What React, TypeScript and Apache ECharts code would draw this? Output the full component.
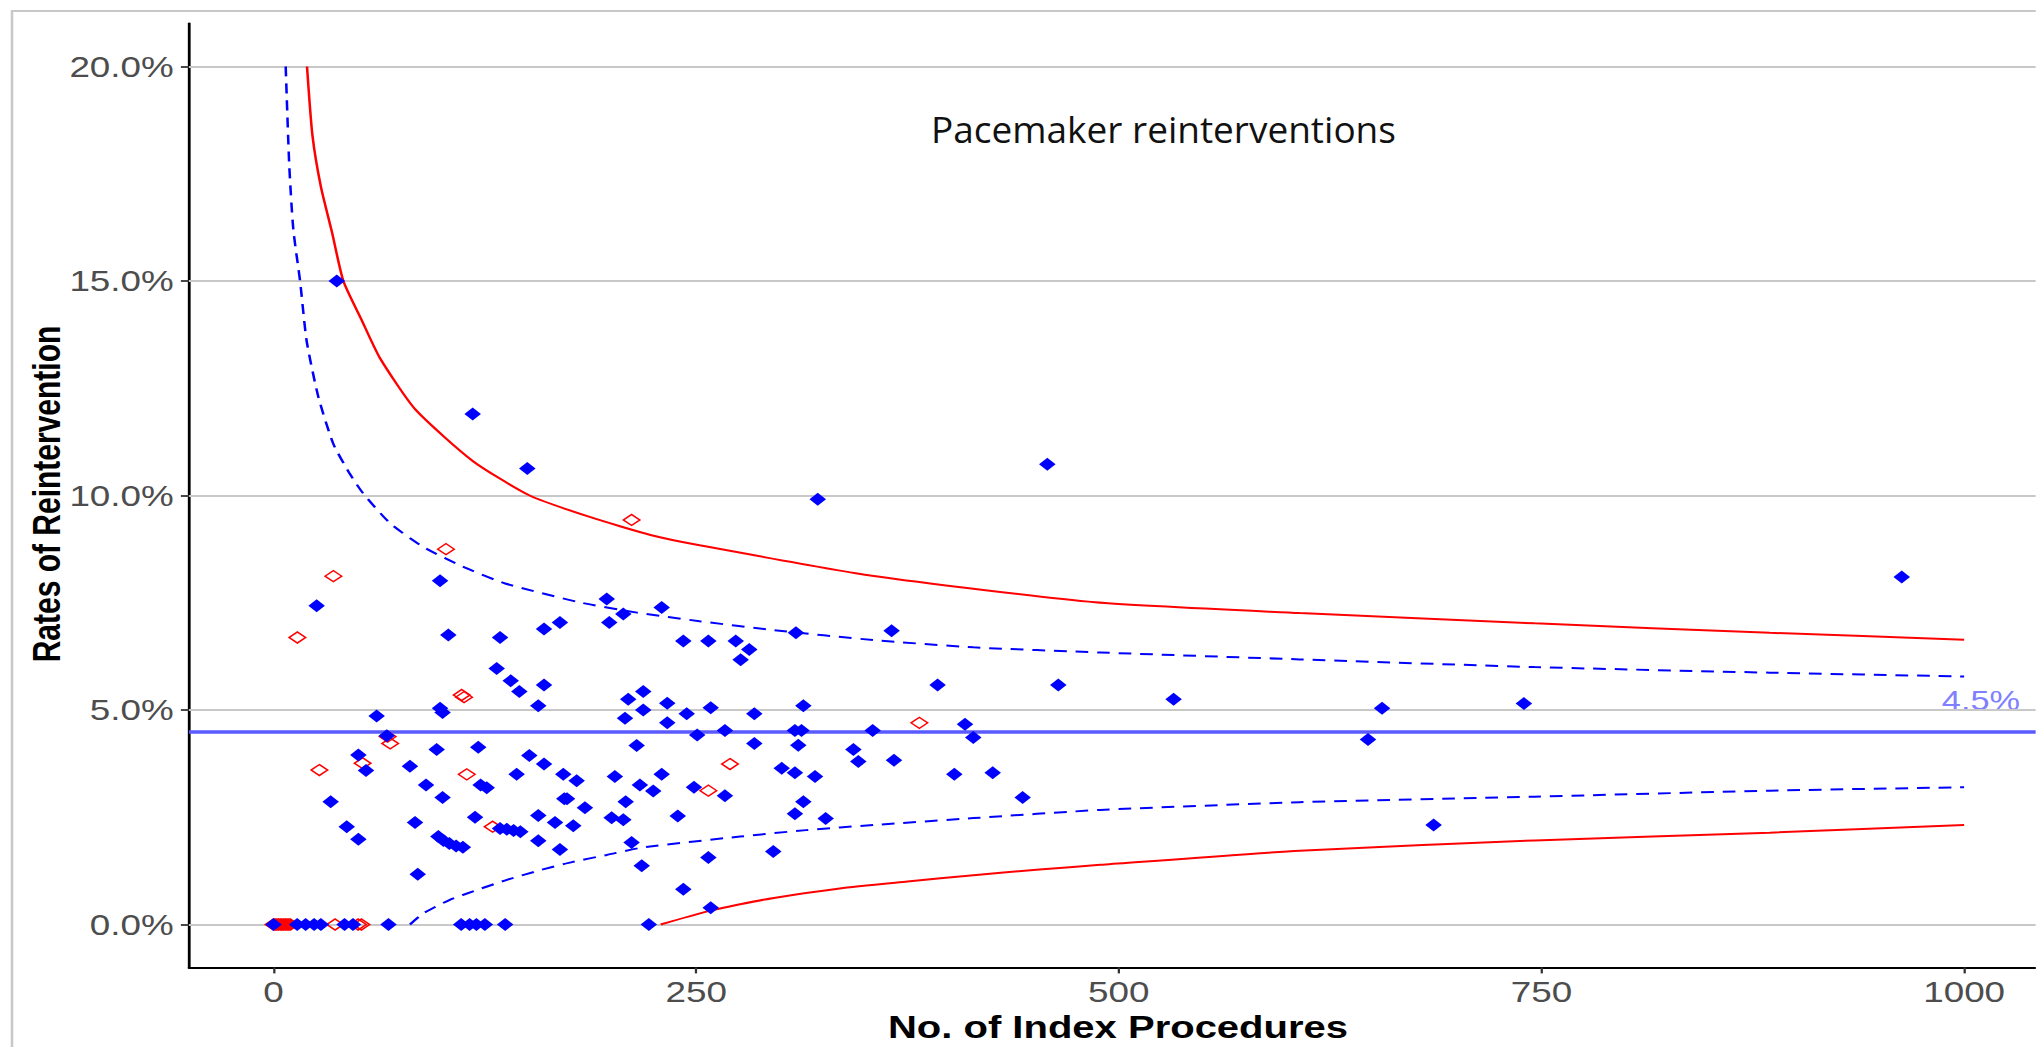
import React, { useEffect, useRef } from "react";
import * as echarts from "echarts";

// ---------- data ----------
const X_TICKS = [0, 250, 500, 750, 1000];
const Y_TICKS = [0, 5, 10, 15, 20];
const MEAN_RATE = 4.5;
const MEAN_LABEL = "4.5%";
const CHART_TITLE = "Pacemaker reinterventions";
const X_TITLE = "No. of Index Procedures";
const Y_TITLE = "Rates of Reintervention";

// centres: [index procedures, reintervention rate %]
const BLUE_POINTS: [number, number][] = [
  [37.4, 15.0], [117.8, 11.9], [150.1, 10.63], [321.9, 9.91], [457.7, 10.73], [963.1, 8.1],
  [98.5, 8.01], [25.5, 7.43], [197.1, 7.59], [206.9, 7.24], [169.4, 7.04], [160.0, 6.89], [198.6, 7.04], [103.4, 6.75], [134.0, 6.69],
  [132.0, 5.97], [140.3, 5.68], [145.4, 5.43], [160.0, 5.58], [156.6, 5.10], [98.5, 5.04], [100.0, 4.94], [61.0, 4.86], [67.0, 4.40],
  [50.2, 3.95], [54.7, 3.59], [96.5, 4.08], [121.1, 4.13], [80.7, 3.69], [90.2, 3.25], [100.0, 2.96], [122.5, 3.25], [126.1, 3.19],
  [143.8, 3.50], [151.3, 3.94], [160.0, 3.74], [171.4, 3.50], [179.3, 3.35], [172.0, 2.93], [173.6, 2.93], [184.2, 2.72], [201.9, 3.45],
  [208.3, 2.86], [216.7, 3.25], [214.8, 4.17], [207.9, 4.81], [209.8, 5.25], [218.7, 5.43], [218.7, 5.0],
  [33.8, 2.86], [43.3, 2.28], [50.2, 1.99], [83.7, 2.38], [85.3, 1.17],
  [97.5, 2.05], [100.5, 1.96], [104.0, 1.89], [108.0, 1.83], [112.0, 1.8],
  [119.2, 2.5], [134.0, 2.24], [138.0, 2.22], [142.0, 2.19], [146.0, 2.16],
  [156.6, 2.54], [166.5, 2.38], [177.3, 2.3], [156.6, 1.95], [169.4, 1.75], [200.0, 2.49], [206.9, 2.44], [211.8, 1.91], [217.8, 1.37],
  [0, 0], [14, 0], [19, 0], [24, 0], [28, 0], [42, 0], [47, 0], [68, 0], [111, 0], [116, 0], [120, 0], [125, 0], [137, 0], [222, 0],
  [229.6, 7.39], [242.4, 6.61], [257.2, 6.61], [273.4, 6.61], [281.4, 6.41], [276.3, 6.17], [309.0, 6.8], [365.6, 6.85], [392.8, 5.58], [464.2, 5.58],
  [232.9, 5.16], [232.9, 4.7], [244.4, 4.91], [258.6, 5.05], [250.6, 4.42], [267.0, 4.52], [284.4, 4.91], [284.4, 4.22], [313.4, 5.1],
  [308.4, 4.52], [312.3, 4.52], [310.4, 4.18], [354.4, 4.52], [343.0, 4.08], [345.9, 3.8], [367.0, 3.83], [409.0, 4.67], [413.9, 4.36],
  [402.7, 3.5], [425.4, 3.54], [443.1, 2.96],
  [300.6, 3.64], [308.4, 3.54], [320.3, 3.45], [229.6, 3.5], [224.6, 3.11], [248.7, 3.2], [267.0, 3.0], [313.4, 2.86], [308.4, 2.58],
  [326.6, 2.47], [239.1, 2.53], [257.2, 1.56], [295.6, 1.7], [242.4, 0.82], [258.6, 0.39],
  [532.4, 5.25], [655.7, 5.04], [647.4, 4.31], [739.6, 5.15], [686.2, 2.32],
];

const RED_OPEN_POINTS: [number, number][] = [
  [0, 0], [1, 0], [2, 0], [3, 0], [4, 0], [5, 0], [6, 0], [7, 0], [8, 0], [9, 0], [10, 0],
  [36.4, 0], [50, 0], [52, 0],
  [14.1, 6.69], [35.4, 8.12], [27.1, 3.6], [52.7, 3.76], [67.5, 4.38], [69, 4.22], [102, 8.75],
  [111.3, 5.35], [112.7, 5.3], [114.3, 3.5], [129.6, 2.28], [211.8, 9.43], [257.2, 3.12], [270, 3.74], [382, 4.7],
];

const UPPER_998: [number, number][] = [
  [19.8, 20.0], [23, 18.4], [28, 17.2], [34.5, 16.15], [41.3, 15.0], [52, 14.1], [63, 13.2], [84, 12.0], [118, 10.8],
  [151.5, 10.0], [187, 9.5], [223, 9.08], [252, 8.84], [354, 8.13], [486, 7.51], [607, 7.26], [746, 7.02], [885, 6.8], [1000, 6.64],
];
const UPPER_95: [number, number][] = [
  [7.2, 20], [9.3, 17.7], [11.7, 16.2], [15.7, 15.0], [19.6, 13.6], [26.5, 12.3], [35.4, 11.2], [45.2, 10.5], [53, 10.05],
  [69, 9.35], [88.6, 8.8], [112, 8.34], [137, 7.95], [181, 7.51], [215, 7.27], [252, 7.07], [296, 6.86], [355, 6.63],
  [414, 6.46], [489, 6.34], [607, 6.18], [746, 6.0], [885, 5.87], [1000, 5.78],
];
const LOWER_95: [number, number][] = [
  [80.7, 0], [88.6, 0.26], [104, 0.57], [120, 0.8], [138, 1.04], [158, 1.27], [177, 1.46], [197, 1.62], [219, 1.8],
  [276, 2.05], [315, 2.2], [355, 2.32], [414, 2.48], [489, 2.67], [607, 2.85], [746, 2.98], [885, 3.12], [1000, 3.2],
];
const LOWER_998: [number, number][] = [
  [229, 0], [256, 0.3], [276, 0.47], [296, 0.62], [335, 0.84], [375, 1.0], [414, 1.15], [453, 1.28], [489, 1.39],
  [607, 1.72], [746, 1.96], [885, 2.14], [1000, 2.32],
];

// ---------- layout (picture is stretched horizontally) ----------
const S = 1.27;
const FULL_W = 2036;
const FULL_H = 1047;
const W = FULL_W / S;
const ux = (X: number) => X / S;
const FONT = "'Liberation Sans', Arial, sans-serif";

export default function App() {
  const ref = useRef<HTMLDivElement>(null);

  useEffect(() => {
    const chart = echarts.init(ref.current!, null, { renderer: "svg" });
    const curve = (name: string, data: [number, number][], color: string, dashed: boolean) => ({
      name,
      type: "line",
      data,
      showSymbol: false,
      symbol: "none",
      smooth: 0.2,
      z: 3,
      silent: true,
      lineStyle: dashed ? { color, width: 2, type: [10, 7] } : { color, width: 2 },
    });
    chart.setOption({
      animation: false,
      backgroundColor: "#ffffff",
      grid: { left: ux(189), right: 0, top: 23.6, bottom: FULL_H - 967.4, containLabel: false },
      xAxis: {
        type: "value",
        min: -50,
        max: 1042.4,
        axisLine: { show: true, onZero: false, lineStyle: { color: "#000", width: 2.2 } },
        axisTick: { show: true, customValues: X_TICKS, length: 6, lineStyle: { color: "#333", width: 1.8 } },
        axisLabel: {
          customValues: X_TICKS,
          margin: 10,
          fontSize: 29,
          color: "#4d4d4d",
          fontFamily: FONT,
          formatter: (v: number) => String(v),
        },
        splitLine: { show: false },
      },
      yAxis: {
        type: "value",
        min: -1,
        max: 21,
        axisLine: { show: true, onZero: false, lineStyle: { color: "#000", width: 2.2 } },
        axisTick: { show: true, customValues: Y_TICKS, length: 6.4, lineStyle: { color: "#333", width: 1.8 } },
        axisLabel: {
          customValues: Y_TICKS,
          margin: 12,
          fontSize: 29,
          color: "#4d4d4d",
          fontFamily: FONT,
          formatter: (v: number) => v.toFixed(1) + "%",
        },
        splitLine: { show: false },
      },
      graphic: [
        {
          type: "rect",
          silent: true,
          z: -10,
          shape: { x: ux(12), y: 11, width: W + 50, height: FULL_H + 50 },
          style: { fill: "none", stroke: "#c8c8c8", lineWidth: 2 },
        },
        {
          type: "text",
          x: ux(1163.5),
          y: 128,
          scaleX: 1 / S,
          style: { text: CHART_TITLE, fontSize: 37, fontFamily: "'Open Sans', sans-serif", fill: "#111", align: "center", verticalAlign: "middle" },
        },
        {
          type: "text",
          x: ux(1118),
          y: 1027,
          style: { text: X_TITLE, fontSize: 31.5, fontWeight: "bold", fontFamily: FONT, fill: "#000", align: "center", verticalAlign: "middle" },
        },
        {
          type: "text",
          x: ux(47),
          y: 494,
          rotation: Math.PI / 2,
          style: { text: Y_TITLE, fontSize: 30, fontWeight: "bold", fontFamily: FONT, fill: "#000", align: "center", verticalAlign: "middle" },
        },
        {
          type: "text",
          x: ux(2020),
          y: 700.5,
          style: { text: MEAN_LABEL, fontSize: 27, fontFamily: FONT, fill: "#8080ff", align: "right", verticalAlign: "middle" },
        },
      ],
      series: [
        {
          name: "grid",
          type: "line",
          data: [],
          silent: true,
          markLine: {
            silent: true,
            z: 1,
            symbol: "none",
            label: { show: false },
            lineStyle: { color: "#c8c8c8", width: 2, type: "solid" },
            data: Y_TICKS.map((v) => ({ yAxis: v })),
          },
        },
        {
          name: "mean",
          type: "line",
          data: [],
          silent: true,
          markLine: {
            silent: true,
            z: 2,
            symbol: "none",
            label: { show: false },
            lineStyle: { color: "#5a5aff", width: 3.5, type: "solid", opacity: 1 },
            data: [{ yAxis: MEAN_RATE }],
          },
        },
        curve("upper 99.8%", UPPER_998, "#ff0000", false),
        curve("lower 99.8%", LOWER_998, "#ff0000", false),
        curve("upper 95%", UPPER_95, "#0000ff", true),
        curve("lower 95%", LOWER_95, "#0000ff", true),
        {
          name: "open",
          type: "scatter",
          data: RED_OPEN_POINTS,
          symbol: "diamond",
          symbolSize: [13, 11],
          z: 4,
          itemStyle: { color: "rgba(0,0,0,0)", borderColor: "#ff0000", borderWidth: 1.4, opacity: 1 },
        },
        {
          name: "units",
          type: "scatter",
          data: BLUE_POINTS,
          symbol: "diamond",
          symbolSize: 13,
          z: 5,
          itemStyle: { color: "#0000ff", opacity: 1 },
        },
      ],
    });
    return () => chart.dispose();
  }, []);

  return (
    <div
      style={{
        position: "fixed",
        left: 0,
        top: 0,
        width: FULL_W,
        height: FULL_H,
        overflow: "hidden",
        background: "#ffffff",
      }}
    >
      <div
        ref={ref}
        style={{ width: W, height: FULL_H, transform: `scaleX(${S})`, transformOrigin: "0 0" }}
      />
    </div>
  );
}
